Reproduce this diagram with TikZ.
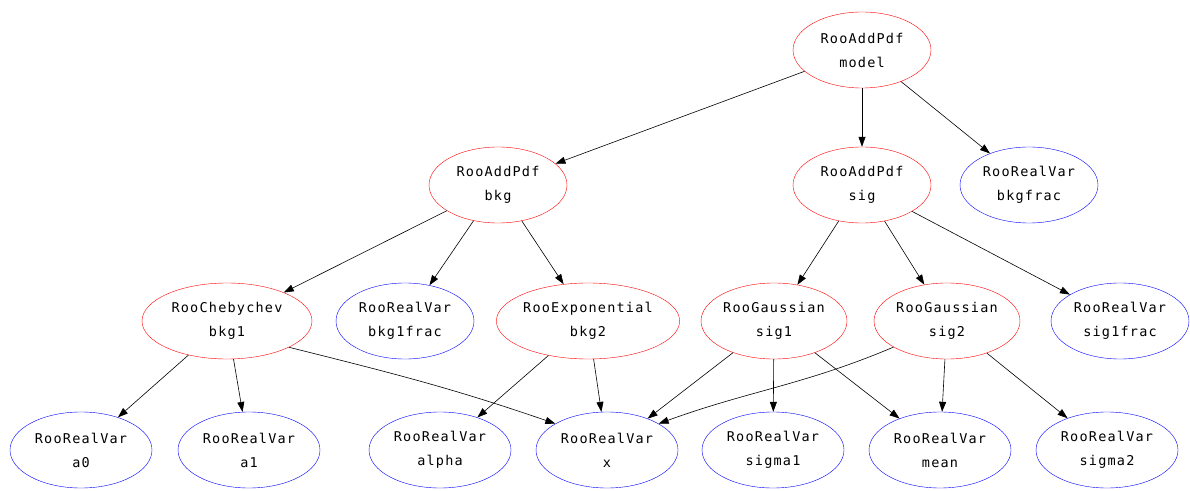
\documentclass[tikz,border=0pt]{standalone}
\usepackage{fontspec}
\newfontfamily\gvfont[LetterSpace=9]{DejaVu Sans Mono}
\usepackage{tikz}
\usetikzlibrary{arrows.meta, shapes.geometric}

\begin{document}
\begin{tikzpicture}[
        x=1pt, y=1pt,
        >={Triangle[length=10pt, width=7pt]},
        pdf/.style={draw=red, ellipse, inner sep=0pt, minimum width=138pt,
            minimum height=76pt, align=center, font=\gvfont\fontsize{13.5}{24}\selectfont},
        var/.style={pdf, draw=blue},
        line/.style={draw, line width=0.6pt, ->},
    ]
        \useasboundingbox (0,0) rectangle (1190,490);

        % top row
        \node[pdf] (model) at (862,440) {RooAddPdf\\model};

        % second row
        \node[pdf] (bkg) at (498,305) {RooAddPdf\\bkg};
        \node[pdf] (sig) at (862,305) {RooAddPdf\\sig};
        \node[var] (bkgfrac) at (1029,305) {RooRealVar\\bkgfrac};

        % third row
        \node[pdf, minimum width=170pt] (bkg1) at (227,169) {RooChebychev\\bkg1};
        \node[var] (bkg1frac) at (405,169) {RooRealVar\\bkg1frac};
        \node[pdf, minimum width=174pt] (bkg2) at (588,169) {RooExponential\\bkg2};
        \node[pdf, minimum width=146pt] (sig1) at (774,169) {RooGaussian\\sig1};
        \node[pdf, minimum width=146pt] (sig2) at (947,169) {RooGaussian\\sig2};
        \node[var] (sig1frac) at (1120,169) {RooRealVar\\sig1frac};

        % bottom row
        \node[var, minimum width=142pt] (a0) at (81,40) {RooRealVar\\a0};
        \node[var, minimum width=142pt] (a1) at (249,40) {RooRealVar\\a1};
        \node[var, minimum width=142pt] (alpha) at (440,40) {RooRealVar\\alpha};
        \node[var, minimum width=142pt] (x) at (607,40) {RooRealVar\\x};
        \node[var, minimum width=142pt] (sigma1) at (773,40) {RooRealVar\\sigma1};
        \node[var, minimum width=142pt] (mean) at (940,40) {RooRealVar\\mean};
        \node[var, minimum width=142pt] (sigma2) at (1107,40) {RooRealVar\\sigma2};

        \foreach \i/\j in {model/bkg, model/sig, model/bkgfrac,
                bkg/bkg1, bkg/bkg1frac, bkg/bkg2,
                sig/sig1, sig/sig2, sig/sig1frac,
                bkg1/a0, bkg1/a1, bkg2/alpha, bkg2/x,
                sig1/x, sig1/sigma1, sig1/mean,
                sig2/mean, sig2/sigma2}
            \path[line] (\i) -- (\j);

        \path[line] (bkg1.-23) to[out=-14, in=161] (x.153);
        \path[line] (sig2.206) to[out=203, in=20] (x.27);
    \end{tikzpicture}
\end{document}
